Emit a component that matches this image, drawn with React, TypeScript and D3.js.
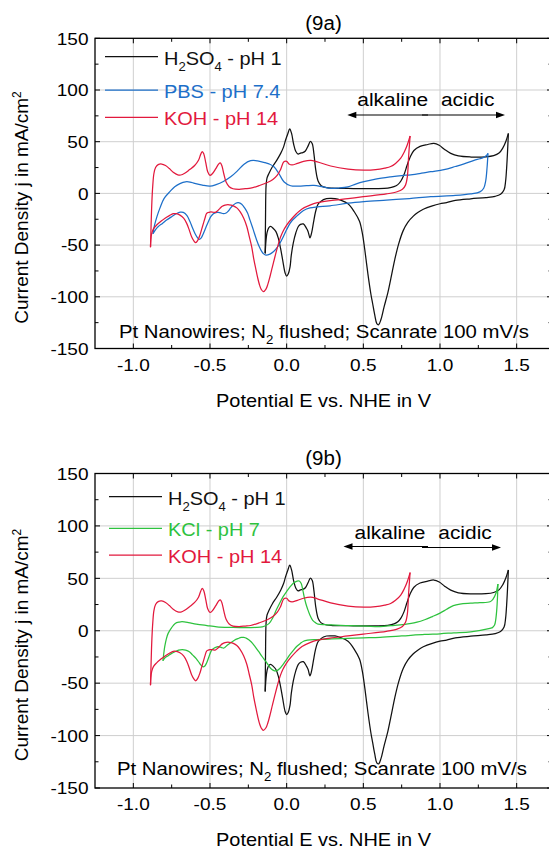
import React from 'react';
import * as d3 from 'd3';

type Pt = [number, number];

// ---------- axes ----------
const xDomain: [number, number] = [-1.25, 1.737];
const yDomain: [number, number] = [-150, 150];
const xTickValues = [-1.0, -0.5, 0.0, 0.5, 1.0, 1.5];
const xTickLabels = ['-1.0', '-0.5', '0.0', '0.5', '1.0', '1.5'];
const xMinorValues = [-0.75, -0.25, 0.25, 0.75, 1.25];
const yTickValues = [-150, -100, -50, 0, 50, 100, 150];
const yTickLabels = ['-150', '-100', '-50', '0', '50', '100', '150'];
const yMinorValues = [-125, -75, -25, 25, 75, 125];

// ---------- data: potential (V vs NHE), current density (mA/cm2) ----------
const h2so4Anodic: Pt[] = [
  [-0.14, -58], [-0.138, -25], [-0.134, 8], [-0.128, 15], [-0.115, 19.5], [-0.093, 25.8],
  [-0.065, 32], [-0.039, 38.7], [-0.02, 45], [-0.007, 51.6], [0.008, 58], [0.02, 62.5],
  [0.032, 58], [0.045, 48], [0.06, 40.5], [0.075, 38], [0.09, 39], [0.105, 39.5],
  [0.122, 41], [0.14, 46], [0.155, 50.3], [0.167, 48], [0.178, 38], [0.19, 22.5],
  [0.205, 12], [0.225, 7.5], [0.26, 5.5], [0.3, 5], [0.4, 4.8], [0.5, 4.6], [0.6, 4.6],
  [0.66, 5.2], [0.7, 6.5], [0.725, 8.5], [0.745, 12], [0.765, 18], [0.785, 27],
  [0.805, 35], [0.83, 41.5], [0.87, 45.5], [0.92, 47.3], [0.96, 48.4], [0.995, 46.5],
  [1.03, 42.5], [1.07, 38.7], [1.12, 36.2], [1.2, 35.2], [1.3, 35.4], [1.35, 36.5],
  [1.385, 39], [1.41, 44], [1.43, 50.5], [1.446, 58],
];
const h2so4Cathodic: Pt[] = [
  [1.446, 58], [1.442, 45], [1.436, 28], [1.428, 12], [1.418, 3.5], [1.395, -0.8],
  [1.36, -2.8], [1.3, -4], [1.2, -5.2], [1.1, -6.8], [1.043, -8.9], [1.0, -10],
  [0.95, -12], [0.891, -15.3], [0.855, -18.5], [0.826, -22], [0.79, -28], [0.76, -36],
  [0.73, -49], [0.705, -64], [0.68, -82], [0.66, -96], [0.635, -110], [0.615, -122],
  [0.6, -127], [0.588, -126], [0.575, -118], [0.56, -106], [0.55, -98], [0.53, -78],
  [0.51, -55], [0.494, -39], [0.475, -27], [0.44, -17.5], [0.4, -10], [0.352, -6.5],
  [0.315, -5], [0.287, -4.8], [0.26, -5], [0.24, -6], [0.225, -7.5], [0.21, -9.5],
  [0.2, -12], [0.188, -18], [0.175, -28], [0.163, -38], [0.152, -43], [0.14, -37],
  [0.13, -34], [0.109, -29.5], [0.09, -30], [0.076, -32], [0.06, -38], [0.043, -48],
  [0.03, -60], [0.022, -71], [0.01, -78], [0.0, -80], [-0.01, -77], [-0.026, -64.5],
  [-0.04, -53], [-0.054, -43.5], [-0.07, -37], [-0.087, -34], [-0.105, -32],
  [-0.118, -33.5], [-0.128, -38], [-0.135, -46], [-0.14, -58],
];

const pbsAnodic: Pt[] = [
  [-0.872, -39], [-0.862, -31], [-0.845, -22], [-0.826, -14], [-0.8, -5], [-0.76, 2],
  [-0.73, 6.5], [-0.696, 9.5], [-0.66, 11.2], [-0.63, 11], [-0.6, 9.7], [-0.55, 8],
  [-0.5, 7], [-0.46, 8.5], [-0.413, 11.5], [-0.365, 16], [-0.32, 22], [-0.28, 28],
  [-0.235, 31.6], [-0.19, 31.5], [-0.148, 30], [-0.115, 28.5], [-0.083, 25.8],
  [-0.05, 19], [-0.018, 11.3], [0.026, 7.4], [0.08, 7], [0.13, 7.5], [0.178, 7.7],
  [0.23, 6.5], [0.287, 4.8], [0.34, 5.2], [0.4, 6.4], [0.45, 9], [0.504, 11.3],
  [0.58, 13.8], [0.678, 16], [0.75, 17.3], [0.809, 18], [0.88, 19.5], [0.94, 21],
  [1.026, 23], [1.1, 26], [1.157, 28.5], [1.222, 32], [1.26, 33.5], [1.287, 35],
  [1.305, 37], [1.313, 38.7],
];
const pbsCathodic: Pt[] = [
  [1.313, 38.7], [1.307, 25], [1.298, 12], [1.285, 5], [1.26, 1.5], [1.2, -0.5],
  [1.1, -2], [0.94, -3.2], [0.8, -5], [0.65, -6.5], [0.504, -8], [0.4, -9.5],
  [0.283, -12], [0.2, -13], [0.152, -14], [0.11, -16.5], [0.065, -22], [0.04, -25.5],
  [0.022, -29], [0.0, -35], [-0.022, -42], [-0.045, -48.5], [-0.065, -53],
  [-0.087, -56.5], [-0.109, -58.7], [-0.135, -59.7], [-0.15, -58.5], [-0.163, -56],
  [-0.18, -51], [-0.196, -45], [-0.218, -35], [-0.239, -25.8], [-0.255, -19],
  [-0.272, -14.5], [-0.293, -10.5], [-0.315, -9], [-0.332, -9.5], [-0.348, -11.3],
  [-0.365, -14], [-0.38, -17], [-0.395, -19], [-0.413, -19.6], [-0.43, -18.8],
  [-0.446, -18.4], [-0.462, -18.5], [-0.478, -19.6], [-0.495, -22.5], [-0.511, -27.4],
  [-0.527, -33], [-0.543, -38.7], [-0.557, -43], [-0.57, -44.5], [-0.583, -42.5],
  [-0.598, -38.7], [-0.615, -33], [-0.63, -27.4], [-0.65, -21.5], [-0.674, -18.4],
  [-0.695, -18.2], [-0.717, -19.4], [-0.75, -22.5], [-0.783, -25.8], [-0.81, -29],
  [-0.837, -32], [-0.855, -35], [-0.872, -39],
];

const kohAnodic: Pt[] = [
  [-0.888, -52], [-0.884, -30], [-0.879, -8], [-0.873, 8], [-0.866, 19], [-0.855, 25],
  [-0.838, 27.8], [-0.815, 28.4], [-0.79, 27], [-0.765, 24], [-0.74, 20.5], [-0.71, 18],
  [-0.69, 17.8], [-0.665, 19.5], [-0.633, 23], [-0.6, 27], [-0.575, 32], [-0.56, 38],
  [-0.55, 40.5], [-0.54, 38], [-0.528, 30], [-0.515, 21], [-0.5, 17.5], [-0.485, 19],
  [-0.462, 24], [-0.443, 28.5], [-0.433, 29.5], [-0.423, 27], [-0.41, 19], [-0.395, 11],
  [-0.375, 6.5], [-0.35, 4.5], [-0.31, 4], [-0.27, 4.5], [-0.235, 5], [-0.18, 7.5],
  [-0.126, 10.5], [-0.09, 13.5], [-0.061, 17.7], [-0.04, 23], [-0.018, 30.6], [0.0, 31],
  [0.015, 28.5], [0.035, 27.5], [0.07, 29], [0.11, 31], [0.157, 32], [0.2, 30.5],
  [0.287, 26.5], [0.4, 23.5], [0.504, 22.5], [0.58, 23], [0.64, 24.5], [0.678, 26],
  [0.71, 29], [0.744, 34], [0.767, 40], [0.787, 47], [0.805, 55.5],
];
const kohCathodic: Pt[] = [
  [0.805, 55.5], [0.795, 35], [0.787, 16], [0.775, 8], [0.755, 4], [0.72, 1.6],
  [0.65, -0.5], [0.5, -3.2], [0.4, -5], [0.283, -7], [0.2, -9], [0.152, -11.3],
  [0.1, -15], [0.065, -19.4], [0.03, -25], [0.0, -30.6], [-0.025, -37], [-0.043, -43.5],
  [-0.06, -52], [-0.076, -61], [-0.093, -71], [-0.109, -80.6], [-0.123, -88],
  [-0.135, -92.5], [-0.152, -95], [-0.165, -93], [-0.176, -89], [-0.19, -81],
  [-0.2, -74], [-0.215, -63], [-0.228, -51.6], [-0.245, -41], [-0.26, -32],
  [-0.28, -24], [-0.304, -17.7], [-0.325, -14], [-0.348, -12], [-0.375, -11],
  [-0.402, -11.3], [-0.42, -12.5], [-0.435, -14.5], [-0.452, -17], [-0.467, -18.4],
  [-0.485, -18], [-0.5, -18], [-0.512, -18.5], [-0.522, -19.4], [-0.533, -24],
  [-0.543, -29], [-0.555, -35], [-0.565, -40], [-0.58, -45.5], [-0.593, -47.7],
  [-0.605, -46], [-0.62, -42], [-0.635, -35.5], [-0.652, -29], [-0.672, -24],
  [-0.696, -21], [-0.72, -19.6], [-0.74, -19.6], [-0.765, -21.5], [-0.793, -24],
  [-0.82, -27], [-0.848, -30.6], [-0.868, -34], [-0.88, -38.7], [-0.886, -45],
  [-0.888, -52],
];

const kclAnodic: Pt[] = [
  [-0.807, -28.6], [-0.8, -20], [-0.795, -15], [-0.785, -8], [-0.773, -2.5], [-0.75, 3],
  [-0.727, 7], [-0.7, 8.3], [-0.682, 8.6], [-0.64, 7.8], [-0.59, 6.4], [-0.52, 5],
  [-0.455, 3.8], [-0.36, 3.2], [-0.273, 2.9], [-0.2, 3.2], [-0.159, 3.8], [-0.135, 5],
  [-0.114, 7], [-0.09, 12.5], [-0.068, 19.7], [-0.045, 26.5], [-0.023, 32.5], [0.0, 37.5],
  [0.023, 42], [0.045, 45.5], [0.068, 47.4], [0.082, 47.5], [0.095, 45], [0.105, 39],
  [0.114, 32.5], [0.125, 26], [0.136, 21], [0.15, 15.5], [0.17, 10], [0.19, 7.5],
  [0.205, 6.4], [0.25, 5.8], [0.318, 5.4], [0.42, 4.8], [0.523, 4.3], [0.609, 4],
  [0.68, 4.8], [0.74, 5.6], [0.8, 6.8], [0.85, 8.2], [0.9, 10.5], [0.95, 13.5],
  [1.0, 16.8], [1.043, 20.5], [1.087, 24], [1.13, 25.5], [1.2, 26.3], [1.26, 26.8],
  [1.326, 27.7], [1.345, 30], [1.365, 35.7], [1.372, 40], [1.378, 44.6],
];
const kclCathodic: Pt[] = [
  [1.378, 44.6], [1.375, 32], [1.37, 19.7], [1.363, 10], [1.356, 5.4], [1.342, 3],
  [1.326, 2.3], [1.2, -1], [1.09, -2], [1.0, -2.9], [0.9, -3.5], [0.75, -5],
  [0.609, -6.3], [0.5, -6.8], [0.4, -7.3], [0.295, -7.8], [0.2, -8.4], [0.136, -9],
  [0.11, -10], [0.09, -12], [0.065, -15], [0.045, -18.5], [0.02, -23], [0.0, -27.4],
  [-0.023, -32], [-0.045, -36], [-0.063, -38], [-0.08, -38.2], [-0.1, -36.5],
  [-0.114, -34], [-0.135, -29.5], [-0.159, -24.8], [-0.182, -20], [-0.205, -15.3],
  [-0.232, -10.5], [-0.261, -7.3], [-0.28, -6.4], [-0.295, -6.4], [-0.318, -7.5],
  [-0.341, -9], [-0.365, -11.5], [-0.386, -13.7], [-0.4, -15.5], [-0.41, -16.5],
  [-0.425, -16], [-0.44, -15.3], [-0.455, -15.3], [-0.472, -16.5], [-0.489, -18.5],
  [-0.505, -24], [-0.523, -31], [-0.535, -33.8], [-0.545, -34.4], [-0.557, -33],
  [-0.568, -31], [-0.59, -26.5], [-0.614, -23], [-0.635, -20], [-0.659, -18.5],
  [-0.68, -18], [-0.705, -18.5], [-0.728, -20], [-0.75, -21.6], [-0.775, -24],
  [-0.795, -26], [-0.807, -28.6],
];

// ---------- styling / layout ----------
const FONT = "'Liberation Sans', Arial, Helvetica, sans-serif";
const LEFT = 95;
const RIGHT = 553;
const BLACK = '#111111';
const BLUE = '#1d6fc9';
const RED = '#e2193d';
const GREEN = '#2ec23e';

type Seg = { t: string; sub?: boolean };
type Series = { label: Seg[]; color: string; anodic: Pt[]; cathodic: Pt[] };

const h2so4Label: Seg[] = [{ t: 'H' }, { t: '2', sub: true }, { t: 'SO' }, { t: '4', sub: true }, { t: ' - pH 1' }];

const panels = [
  {
    title: '(9a)', top: 38.3, bottom: 348.5, titleY: 29.5,
    legendX1: 105, legendX2: 158, legendTextX: 164, legendRows: [56.7, 90, 117.3],
    alkX: 357.3, acidX: 441, annY: 106, arrowL: 347.3, arrowR: 505, arrowYL: 115, arrowYR: 115, arrowMid: 428,
    noteX: 119, noteY: 338.3, yTitleY: 207.5, xTitleY: 407,
    series: [
      { label: h2so4Label, color: BLACK, anodic: h2so4Anodic, cathodic: h2so4Cathodic },
      { label: [{ t: 'PBS - pH 7.4' }], color: BLUE, anodic: pbsAnodic, cathodic: pbsCathodic },
      { label: [{ t: 'KOH - pH 14' }], color: RED, anodic: kohAnodic, cathodic: kohCathodic },
    ] as Series[],
  },
  {
    title: '(9b)', top: 473.5, bottom: 788, titleY: 464.5,
    legendX1: 109, legendX2: 162, legendTextX: 168, legendRows: [496.7, 528.3, 555],
    alkX: 354.6, acidX: 438.3, annY: 539, arrowL: 343.5, arrowR: 501, arrowYL: 546.5, arrowYR: 547.5, arrowMid: 428,
    noteX: 117, noteY: 775, yTitleY: 645, xTitleY: 845.5,
    series: [
      { label: h2so4Label, color: BLACK, anodic: h2so4Anodic, cathodic: h2so4Cathodic },
      { label: [{ t: 'KCl - pH 7' }], color: GREEN, anodic: kclAnodic, cathodic: kclCathodic },
      { label: [{ t: 'KOH - pH 14' }], color: RED, anodic: kohAnodic, cathodic: kohCathodic },
    ] as Series[],
  },
];

function T(props: {
  x: number; y: number; size: number; sx?: number; anchor?: string; fill?: string; children: React.ReactNode;
}) {
  const { x, y, size, sx = 1.1, anchor = 'start', fill = '#000', children } = props;
  return (
    <text
      transform={`translate(${x},${y}) scale(${sx},1)`}
      fontSize={size}
      textAnchor={anchor as any}
      fill={fill}
      fontFamily={FONT}
    >
      {children}
    </text>
  );
}

function renderSegs(segs: Seg[], subSize: number) {
  const out: React.ReactNode[] = [];
  let shifted = false;
  segs.forEach((s, i) => {
    if (s.sub) {
      out.push(<tspan key={i} fontSize={subSize} dy={6}>{s.t}</tspan>);
      shifted = true;
    } else {
      out.push(<tspan key={i} dy={shifted ? -6 : 0}>{s.t}</tspan>);
      shifted = false;
    }
  });
  return out;
}

function Panel({ p }: { p: typeof panels[number] }) {
  const x = d3.scaleLinear().domain(xDomain).range([LEFT, RIGHT]);
  const y = d3.scaleLinear().domain(yDomain).range([p.bottom, p.top]);
  const line = d3
    .line<Pt>()
    .x((d) => x(d[0]))
    .y((d) => y(d[1]))
    .curve(d3.curveCatmullRom.alpha(0.5));

  const MAJ = 5;
  const MIN = 3.5;
  const RMAJ = 6;
  const axisColor = '#000';

  const head = (xt: number, yy: number, dir: number) =>
    `${xt},${yy} ${xt - dir * 9},${yy - 3.3} ${xt - dir * 9},${yy + 3.3}`;

  return (
    <g>
      {/* grid */}
      {xTickValues.map((v) => (
        <line key={'gx' + v} x1={x(v)} x2={x(v)} y1={p.top} y2={p.bottom} stroke="#cfcfcf" strokeWidth={1} />
      ))}
      {yTickValues.filter((v) => v > yDomain[0] && v < yDomain[1]).map((v) => (
        <line key={'gy' + v} x1={LEFT} x2={RIGHT} y1={y(v)} y2={y(v)} stroke="#cfcfcf" strokeWidth={1} />
      ))}

      {/* curves */}
      {p.series.map((s, i) => (
        <g key={'s' + i} fill="none" stroke={s.color} strokeWidth={1.25} strokeLinejoin="round">
          <path d={line(s.anodic) || ''} />
          <path d={line(s.cathodic) || ''} />
        </g>
      ))}

      {/* frame */}
      <rect x={LEFT} y={p.top} width={RIGHT - LEFT} height={p.bottom - p.top} fill="none" stroke={axisColor} strokeWidth={1.3} />

      {/* ticks */}
      {xTickValues.map((v) => (
        <g key={'tx' + v} stroke={axisColor} strokeWidth={1}>
          <line x1={x(v)} x2={x(v)} y1={p.bottom} y2={p.bottom - MAJ} />
          <line x1={x(v)} x2={x(v)} y1={p.top} y2={p.top + MAJ} />
        </g>
      ))}
      {xMinorValues.map((v) => (
        <g key={'mx' + v} stroke={axisColor} strokeWidth={1}>
          <line x1={x(v)} x2={x(v)} y1={p.bottom} y2={p.bottom - MIN} />
          <line x1={x(v)} x2={x(v)} y1={p.top} y2={p.top + MIN} />
        </g>
      ))}
      {yTickValues.map((v) => (
        <g key={'ty' + v} stroke={axisColor} strokeWidth={1}>
          <line x1={LEFT} x2={LEFT + MAJ} y1={y(v)} y2={y(v)} />
          <line x1={RIGHT} x2={RIGHT - RMAJ} y1={y(v)} y2={y(v)} />
        </g>
      ))}
      {yMinorValues.map((v) => (
        <g key={'my' + v} stroke={axisColor} strokeWidth={1}>
          <line x1={LEFT} x2={LEFT + MIN} y1={y(v)} y2={y(v)} />
          <line x1={RIGHT} x2={RIGHT - MIN - 1} y1={y(v)} y2={y(v)} />
        </g>
      ))}

      {/* tick labels */}
      {xTickValues.map((v, i) => (
        <T key={'lx' + v} x={x(v)} y={p.bottom + 22} size={17} sx={1.12} anchor="middle">{xTickLabels[i]}</T>
      ))}
      {yTickValues.map((v, i) => (
        <T key={'ly' + v} x={88.5} y={y(v) + 6.3} size={17} sx={1.12} anchor="end">{yTickLabels[i]}</T>
      ))}

      {/* titles */}
      <T x={323.5} y={p.titleY} size={19.5} sx={1.05} anchor="middle">{p.title}</T>
      <T x={323.5} y={p.xTitleY} size={19} sx={1.05} anchor="middle">Potential E vs. NHE in V</T>
      <text
        transform={`translate(27.7,${p.yTitleY}) rotate(-90)`}
        fontSize={19}
        textAnchor="middle"
        fontFamily={FONT}
        fill="#000"
      >
        Current Density j in mA/cm<tspan fontSize={12} dy={-7}>2</tspan>
      </text>

      {/* legend */}
      {p.series.map((s, i) => (
        <g key={'lg' + i}>
          <line x1={p.legendX1} x2={p.legendX2} y1={p.legendRows[i]} y2={p.legendRows[i]} stroke={s.color} strokeWidth={1.25} />
          <T x={p.legendTextX} y={p.legendRows[i] + 8} size={19} sx={1.05} fill={s.color}>
            {renderSegs(s.label, 12.5)}
          </T>
        </g>
      ))}

      {/* annotation */}
      <T x={p.alkX} y={p.annY} size={19} sx={1.1}>alkaline</T>
      <T x={p.acidX} y={p.annY} size={19} sx={1.1}>acidic</T>
      <line x1={p.arrowMid} x2={p.arrowL + 8} y1={p.arrowYL} y2={p.arrowYL} stroke="#000" strokeWidth={1.2} />
      <polygon points={head(p.arrowL, p.arrowYL, -1)} fill="#000" />
      <line x1={p.arrowMid - 6} x2={p.arrowR - 8} y1={p.arrowYR} y2={p.arrowYR} stroke="#000" strokeWidth={1.2} />
      <polygon points={head(p.arrowR, p.arrowYR, 1)} fill="#000" />

      {/* note */}
      <T x={p.noteX} y={p.noteY} size={18.5} sx={1.1}>
        Pt Nanowires; N<tspan fontSize={12} dy={6}>2</tspan><tspan dy={-6}> flushed; Scanrate 100 mV/s</tspan>
      </T>
    </g>
  );
}

export default function App() {
  return (
    <svg
      width={549}
      height={848}
      viewBox="0 0 549 848"
      style={{ position: 'absolute', left: 0, top: 0, display: 'block' }}
    >
      <rect x={0} y={0} width={549} height={848} fill="#fff" />
      {panels.map((p) => (
        <Panel key={p.title} p={p} />
      ))}
    </svg>
  );
}
